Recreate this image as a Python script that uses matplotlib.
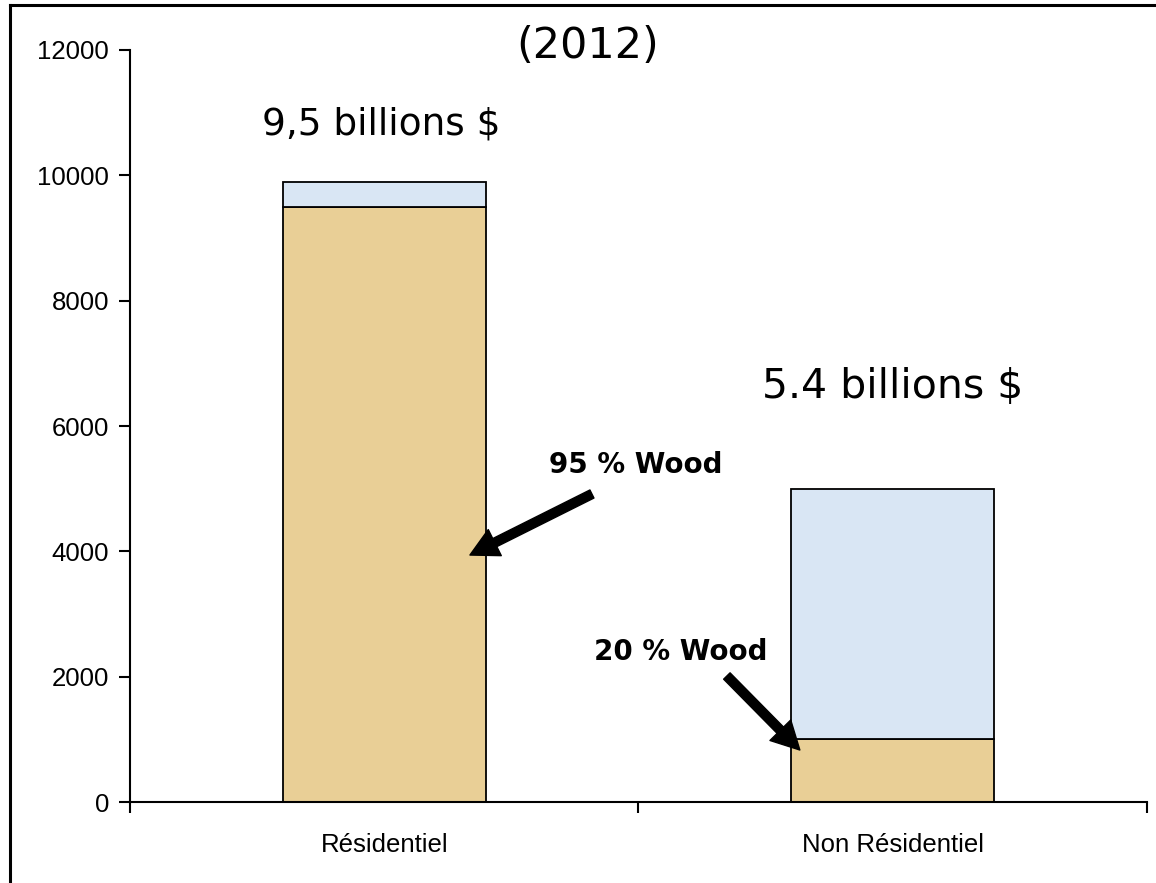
import matplotlib.pyplot as plt
from matplotlib.lines import Line2D

categories = ["Résidentiel", "Non Résidentiel"]
wood = [9500, 1000]
other = [400, 4000]
totals_text = ["9,5 billions $", "5.4 billions $"]
yticks = [0, 2000, 4000, 6000, 8000, 10000, 12000]

tan = "#e9cf96"
blue = "#d9e6f4"

fig = plt.figure(figsize=(11.56, 8.83), dpi=100)
ax = fig.add_axes([0.1125, 0.0917, 0.8795, 0.8517])

x = range(len(categories))
ax.bar(x, wood, width=0.4, color=tan, edgecolor="black", linewidth=1.3)
ax.bar(x, other, width=0.4, bottom=wood, color=blue, edgecolor="black", linewidth=1.3)

ax.set_xlim(-0.5, 1.5)
ax.set_ylim(0, 12000)
ax.set_yticks(yticks)
ax.set_xticks(list(x))
ax.set_xticklabels(categories)
ax.set_xticks([-0.5, 0.5, 1.5], minor=True)
ax.tick_params(axis="x", which="major", length=0, pad=22)
ax.tick_params(axis="x", which="minor", length=8, width=1.5, direction="out")
ax.tick_params(axis="y", length=8, width=1.5, direction="out", pad=7)
for lab in ax.get_xticklabels() + ax.get_yticklabels():
    lab.set_fontfamily("Liberation Sans")
    lab.set_fontsize(18.5)
for s in ["top", "right"]:
    ax.spines[s].set_visible(False)
for s in ["left", "bottom"]:
    ax.spines[s].set_linewidth(1.5)

ax.text(0.40, 12060, "(2012)", ha="center", va="center", fontsize=31, clip_on=False)
ax.text(-0.006, 10803, totals_text[0], ha="center", va="center", fontsize=27)
ax.text(1.0, 6620, totals_text[1], ha="center", va="center", fontsize=29.5)

arrow = dict(facecolor="black", edgecolor="black", width=6.5, headwidth=21, headlength=20, shrink=0)
ax.annotate("", xy=(0.1686, 3941), xytext=(0.4086, 4915), arrowprops=arrow)
ax.annotate("", xy=(0.8176, 830), xytext=(0.674, 2011), arrowprops=arrow)
ax.text(0.495, 5378, "95 % Wood", ha="center", va="center", fontsize=20, fontweight="bold")
ax.text(0.5836, 2394, "20 % Wood", ha="center", va="center", fontsize=20, fontweight="bold")

# outer frame (right and bottom sides fall outside the picture)
fig.add_artist(Line2D([0.0087, 0.0087], [0.9943, 0.0], color="black", linewidth=2.2))
fig.add_artist(Line2D([0.0087, 1.0], [0.9943, 0.9943], color="black", linewidth=2.2))

fig.savefig("out.png", dpi=100)
